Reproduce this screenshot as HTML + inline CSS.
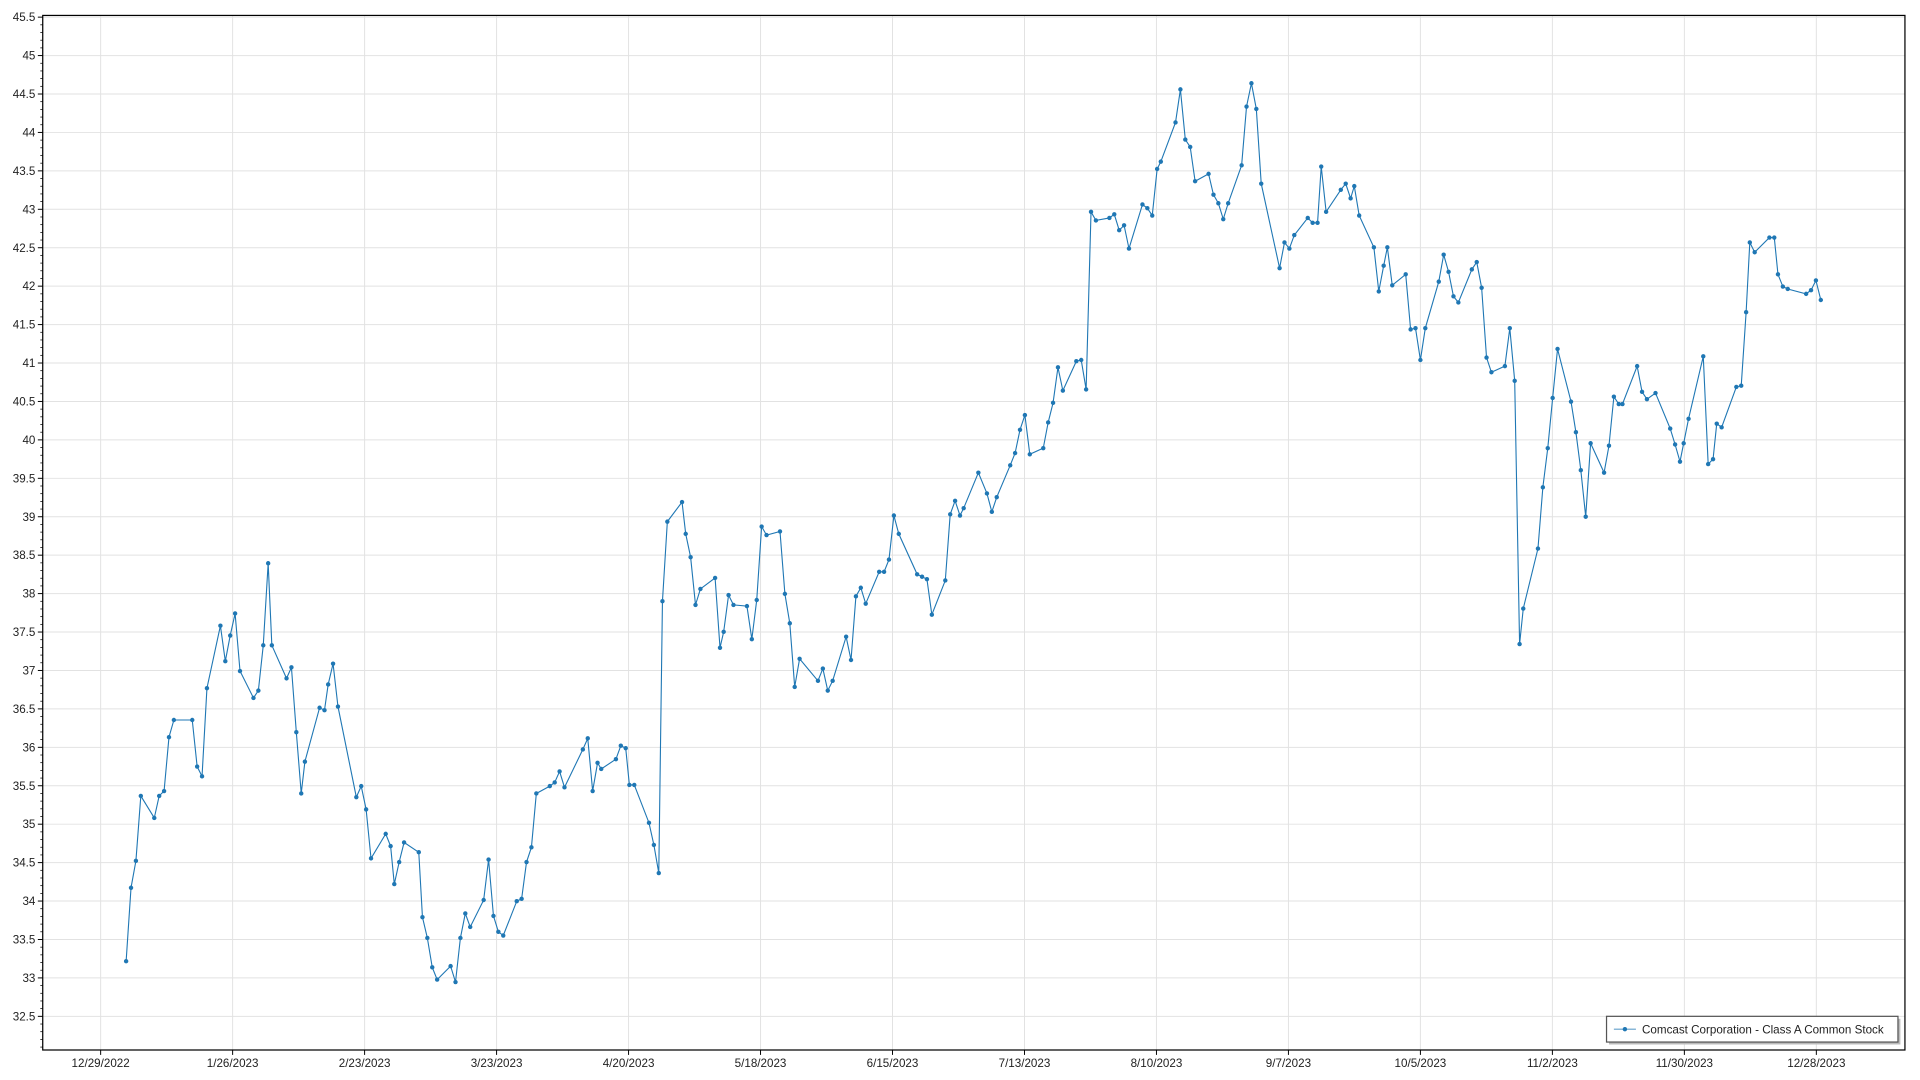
<!DOCTYPE html>
<html><head><meta charset="utf-8"><style>
html,body{margin:0;padding:0;background:#fff;width:1920px;height:1080px;overflow:hidden}
svg{display:block}
text{font-family:"Liberation Sans",sans-serif;font-size:9.5px;fill:#222}
</style></head><body>
<svg width="1920" height="1080" viewBox="0 0 1568 882" preserveAspectRatio="none">
<g id="grid" stroke="#e2e2e2" stroke-width="0.8"></g>
<g id="axes"></g>
<polyline id="ln" fill="none" stroke="#1f77b4" stroke-width="0.9"/>
<g id="pts" fill="#1f77b4"></g>
<rect x="1314" y="832" width="238" height="21" fill="#bbb"/>
<rect x="1312" y="830" width="238" height="21" fill="#fff" stroke="#555" stroke-width="1"/>
<line x1="1318" y1="840.5" x2="1336" y2="840.5" stroke="#1f77b4" stroke-width="1" opacity="0.7"/>
<circle cx="1327" cy="840.5" r="1.8" fill="#1f77b4"/>
<text x="1341" y="844">Comcast Corporation - Class A Common Stock</text>
</svg>
<script>
const ns="http://www.w3.org/2000/svg";
function el(p,t,a,txt){const e=document.createElementNS(ns,t);for(const k in a)e.setAttribute(k,a[k]);if(txt!=null)e.textContent=txt;p.appendChild(e);return e;}
const L=34.9,T=12.6,R=1555.7,B=857.5;
const g=document.getElementById('grid'),ax=document.getElementById('axes');
for(let i=0;i<=26;i++){const v=45.5-i*0.5;const y=14+i*31.385;
 el(g,'line',{x1:L,x2:R,y1:y,y2:y});
 el(ax,'line',{x1:L-4,x2:L,y1:y,y2:y,stroke:'#000','stroke-width':0.8});
 el(ax,'text',{x:L-6,y:y+3.3,'text-anchor':'end'},String(v));
 for(let j=1;j<5;j++){const yy=y+j*6.277;if(yy<B)el(ax,'line',{x1:L-2,x2:L,y1:yy,y2:yy,stroke:'#000','stroke-width':0.6});}
}
const xl=["12/29/2022","1/26/2023","2/23/2023","3/23/2023","4/20/2023","5/18/2023","6/15/2023","7/13/2023","8/10/2023","9/7/2023","10/5/2023","11/2/2023","11/30/2023","12/28/2023"];
xl.forEach((s,i)=>{const x=82.2+i*107.78;
 el(g,'line',{x1:x,x2:x,y1:T,y2:B});
 el(ax,'line',{x1:x,x2:x,y1:B,y2:B+4,stroke:'#000','stroke-width':0.8});
 el(ax,'text',{x:x,y:B+14,'text-anchor':'middle'},s);});
el(ax,'rect',{x:L,y:T,width:R-L,height:B-T,fill:'none',stroke:'#000','stroke-width':1});
const d=[103,785,107,725,111,703,115,650,126,668,130,650,134,646,138,602,142,588,157,588,161,626,165,634,169,562,180,511,184,540,188,519,192,501,196,548,207,570,211,564,215,527,219,460,222,527,234,554,238,545,242,598,246,648,249,622,261,578,265,580,268,559,272,542,276,577,291,651,295,642,299,661,303,701,315,681,319,691,322,722,326,704,330,688,342,696,345,749,349,766,353,790,357,800,368,789,372,802,376,766,380,746,384,757,395,735,399,702,403,748,407,761,411,764,422,736,426,734,430,704,434,692,438,648,449,642,453,639,457,630,461,643,476,612,480,603,484,646,488,623,491,628,503,620,507,609,511,611,514,641,518,641,530,672,534,690,538,713,541,491,545,426,557,410,560,436,564,455,568,494,572,481,584,472,588,529,591,516,595,486,599,494,610,495,614,522,618,490,622,430,626,437,637,434,641,485,645,509,649,561,653,538,668,556,672,546,676,564,680,556,691,520,695,539,699,487,703,480,707,493,718,467,722,467,726,457,730,421,734,436,749,469,753,471,757,473,761,502,772,474,776,420,780,409,784,421,787,415,799,386,806,403,810,418,814,406,825,380,829,370,833,351,837,339,841,371,852,366,856,345,860,329,864,300,868,319,879,295,883,294,887,318,891,173,895,180,906,178,910,175,914,188,918,184,922,203,933,167,937,170,941,176,945,138,948,132,960,100,964,73,968,114,972,120,976,148,987,142,991,159,995,166,999,179,1003,166,1014,135,1018,87,1022,68,1026,89,1030,150,1045,219,1049,198,1053,203,1057,192,1068,178,1072,182,1076,182,1079,136,1083,173,1095,155,1099,150,1103,162,1106,152,1110,176,1122,202,1126,238,1130,217,1133,202,1137,233,1148,224,1152,269,1156,268,1160,294,1164,268,1175,230,1179,208,1183,222,1187,242,1191,247,1202,220,1206,214,1210,235,1214,292,1218,304,1229,299,1233,268,1237,311,1241,526,1244,497,1256,448,1260,398,1264,366,1268,325,1272,285,1283,328,1287,353,1291,384,1295,422,1299,362,1310,386,1314,364,1318,324,1322,330,1325,330,1337,299,1341,320,1345,326,1352,321,1364,350,1368,363,1372,377,1375,362,1379,342,1391,291,1395,379,1399,375,1402,346,1406,349,1418,316,1422,315,1426,255,1429,198,1433,206,1445,194,1449,194,1452,224,1456,234,1460,236,1475,240,1479,237,1483,229,1487,245];
let p=[];const pg=document.getElementById('pts');
for(let i=0;i<d.length;i+=2){p.push(d[i]+','+d[i+1]);el(pg,'circle',{cx:d[i],cy:d[i+1],r:1.8});}
document.getElementById('ln').setAttribute('points',p.join(' '));
</script>
</body></html>
